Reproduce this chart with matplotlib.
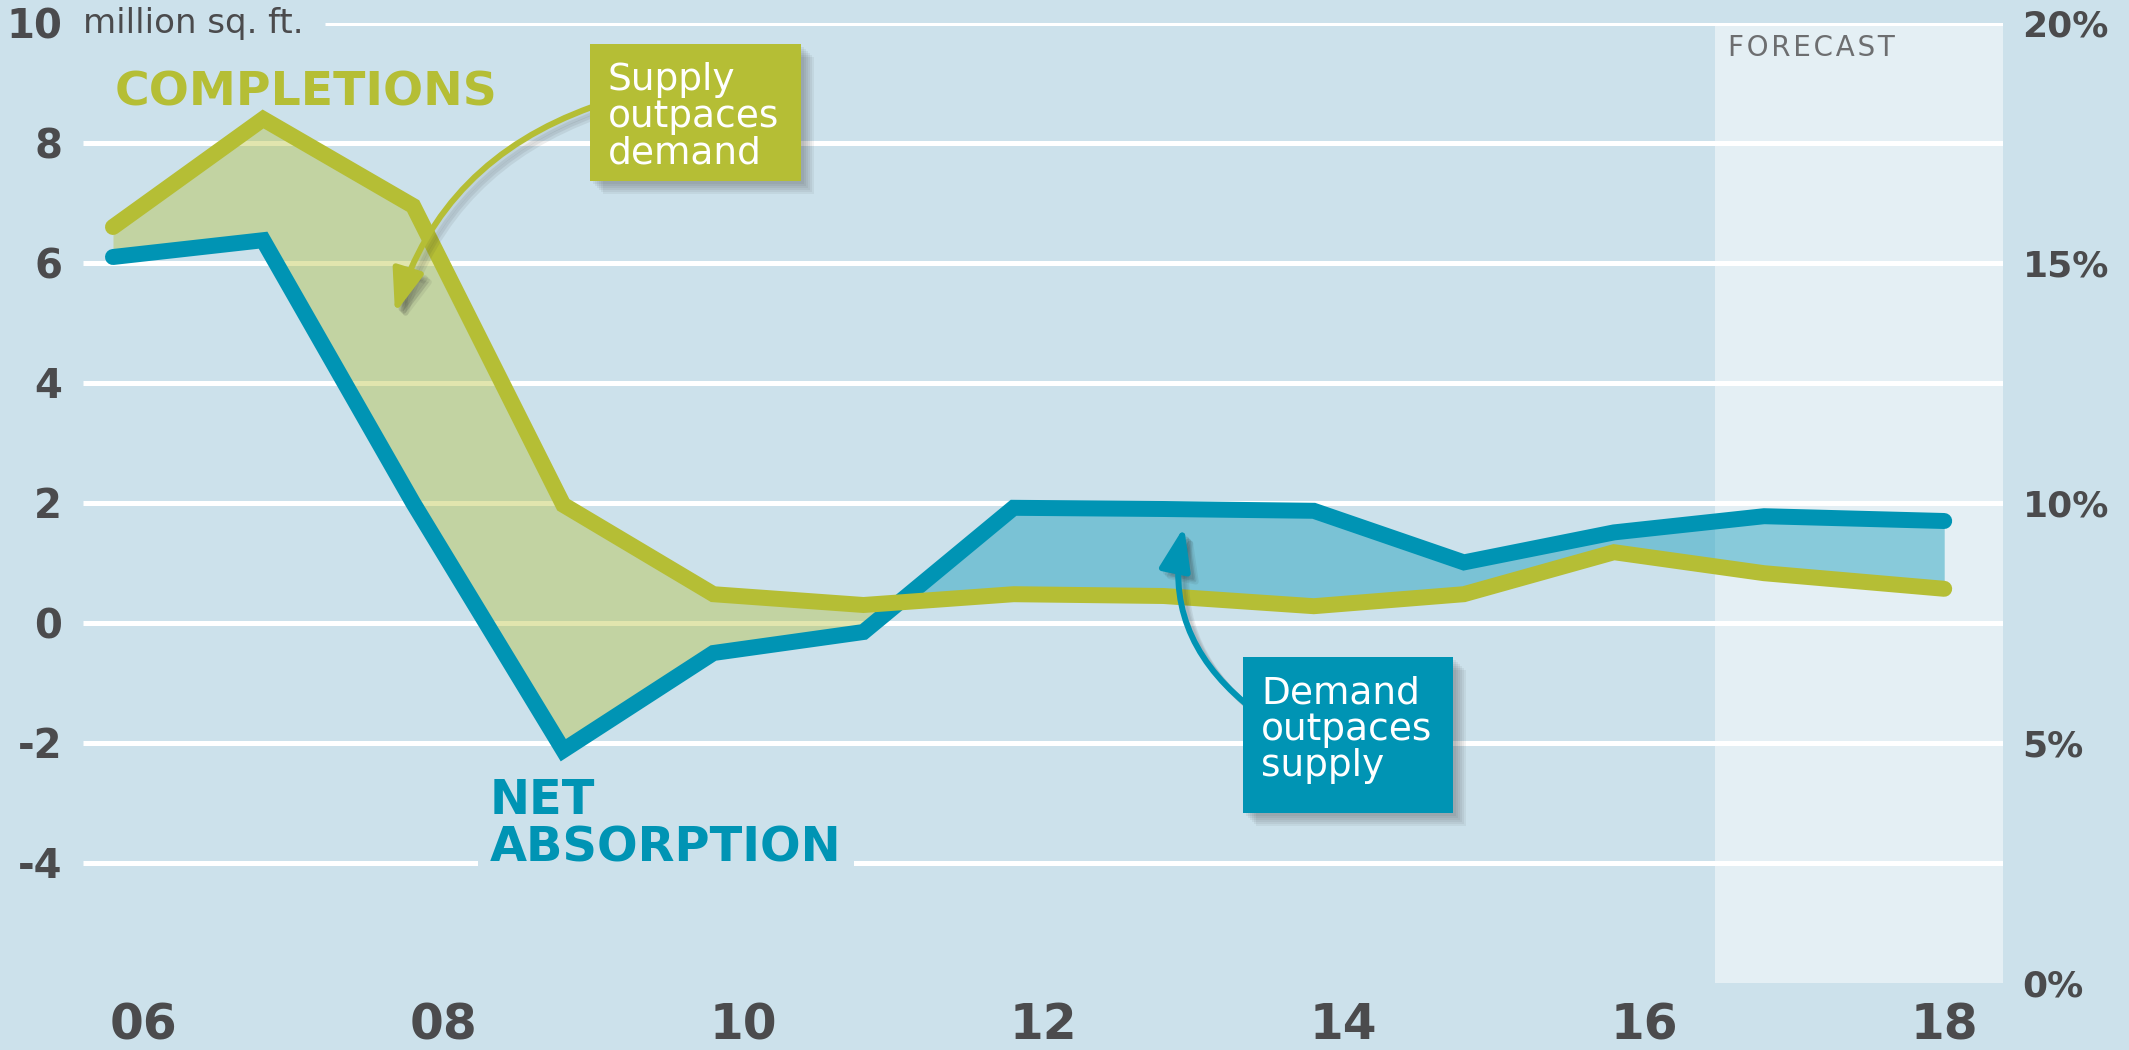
import matplotlib
matplotlib.use("Agg")
import matplotlib.pyplot as plt
from matplotlib.patches import Rectangle, FancyArrowPatch, ArrowStyle

plt.rcParams.update({
    "font.family": "DejaVu Sans",
    "axes.spines.top": False,
    "axes.spines.right": False,
    "axes.spines.left": False,
    "axes.spines.bottom": False,
})

BG = "#cce1eb"
FORECAST_BG = "#e4eff4"
GREEN = "#b5be35"
BLUE = "#0094b4"
DARK = "#4b4b4d"

# values (million sq. ft.)
years = [2005.8, 2006.8, 2007.8, 2008.8, 2009.8, 2010.8, 2011.8,
         2012.8, 2013.8, 2014.8, 2015.8, 2016.8, 2018.0]
completions = [6.6, 8.4, 6.95, 1.97, 0.48, 0.30, 0.48,
               0.45, 0.28, 0.48, 1.18, 0.83, 0.57]
net_absorption = [6.1, 6.38, 2.0, -2.12, -0.5, -0.15, 1.92,
                  1.90, 1.87, 1.01, 1.51, 1.78, 1.70]
left_ticks = [-4, -2, 0, 2, 4, 6, 8, 10]
left_labels = ["-4", "-2", "0", "2", "4", "6", "8", "10"]
right_ticks = [0, 5, 10, 15, 20]
right_labels = ["0%", "5%", "10%", "15%", "20%"]
x_ticks = [2006, 2008, 2010, 2012, 2014, 2016, 2018]
x_labels = ["06", "08", "10", "12", "14", "16", "18"]
forecast_start = 2016.47


# layout helpers: reference pixel -> data coords
def px_x(px):
    return 2006 + (px - 143) / 150.1


def px_y(py):
    return (623 - py) / 60


W, H = 2129, 1050
fig = plt.figure(figsize=(W / 100, H / 100), dpi=100, facecolor=BG)
ax = fig.add_axes([83 / W, (H - 983) / H, 1920 / W, 960 / H])
ax.set_facecolor(BG)
x_lo, x_hi = px_x(83), px_x(2003)
ax.set_xlim(x_lo, x_hi)
ax.set_ylim(-6, 10)

# forecast shading
ax.axvspan(forecast_start, x_hi, color=FORECAST_BG, zorder=0.1, lw=0)

# grid lines (top one starts after the unit label)
starts = [x_lo] * (len(left_ticks) - 1) + [px_x(325)]
ax.hlines(left_ticks, starts, x_hi, color="white", lw=3.6, zorder=0.5)

# fills between the two series
ax.fill_between(years, completions, net_absorption,
                where=[c >= a for c, a in zip(completions, net_absorption)],
                interpolate=True, color=GREEN, alpha=0.4, lw=0, zorder=2)
ax.fill_between(years, completions, net_absorption,
                where=[c < a for c, a in zip(completions, net_absorption)],
                interpolate=True, color=BLUE, alpha=0.4, lw=0, zorder=2)

ax.plot(years, net_absorption, color=BLUE, lw=11.5,
        solid_joinstyle="miter", solid_capstyle="round", zorder=3)
ax.plot(years, completions, color=GREEN, lw=11.5,
        solid_joinstyle="miter", solid_capstyle="round", zorder=4)

# axes ticks
ax.set_yticks(left_ticks)
ax.set_yticklabels(left_labels)
ax.set_xticks(x_ticks)
ax.set_xticklabels(x_labels)
ax.tick_params(axis="y", length=0, pad=15, labelsize=29, labelcolor=DARK)
ax.tick_params(axis="x", length=0, pad=13, labelsize=35, labelcolor=DARK)
for lab in ax.get_yticklabels() + ax.get_xticklabels():
    lab.set_fontweight("bold")

ax2 = ax.twinx()
ax2.set_ylim(0, 20)
ax2.set_yticks(right_ticks)
ax2.set_yticklabels(right_labels)
ax2.tick_params(axis="y", length=0, pad=14, labelsize=26, labelcolor=DARK)
for lab in ax2.get_yticklabels():
    lab.set_fontweight("bold")
for s in ax2.spines.values():
    s.set_visible(False)

# text labels
ax.text(px_x(83), 10, "million sq. ft.", fontsize=24.5, color=DARK,
        ha="left", va="center", zorder=5)
ax.text(px_x(115), px_y(71), "COMPLETIONS", fontsize=34, fontweight="bold",
        color=GREEN, ha="left", va="top", zorder=5)
ax.text(px_x(490), px_y(777), "NET\nABSORPTION", fontsize=34.5,
        fontweight="bold", color=BLUE, ha="left", va="top",
        linespacing=1.02, zorder=1,
        bbox=dict(boxstyle="square,pad=0.25", fc=BG, ec="none"))
ax.text(px_x(1728), px_y(34), "F O R E C A S T".replace(" ", "\u200a"),
        fontsize=20, color="#6d6e70", ha="left", va="top", zorder=1)


def make_arrow(start, end, rad, color, lw, alpha, z):
    return FancyArrowPatch(
        start, end,
        arrowstyle=ArrowStyle("-|>", head_length=26, head_width=9.5),
        connectionstyle=f"arc3,rad={rad}", mutation_scale=1,
        color=color, lw=lw, alpha=alpha, shrinkA=0, shrinkB=0, zorder=z)


def callout(x0, y0, x1, y1, color, text, tip, rad):
    # soft drop shadow
    for i in range(6):
        d = 3 + i * 2
        ax.add_patch(Rectangle((px_x(x0 + d), px_y(y1 + d)),
                               (x1 - x0) / 150.1, (y1 - y0) / 60,
                               fc="#2a2a2a", ec="none", alpha=0.06,
                               zorder=6))
    ax.add_patch(Rectangle((px_x(x0), px_y(y1)), (x1 - x0) / 150.1,
                           (y1 - y0) / 60, fc=color, ec="none", zorder=8))
    ax.text(px_x(x0 + 18), px_y(y0 + 18), text, fontsize=27,
            color="white", ha="left", va="top", linespacing=1.02,
            zorder=9)
    start, end = tip
    # arrow shadow
    for i in range(3):
        d = 4 + i * 2
        ax.add_patch(make_arrow((px_x(start[0] + d), px_y(start[1] + d)),
                                (px_x(end[0] + d), px_y(end[1] + d)),
                                rad, "#2a2a2a", 4.3, 0.08, 6))
    ax.add_patch(make_arrow((px_x(start[0]), px_y(start[1])),
                            (px_x(end[0]), px_y(end[1])),
                            rad, color, 4.3, 1, 7))


callout(590, 44, 801, 181, GREEN, "Supply\noutpaces\ndemand",
        ((592, 107), (395, 313)), 0.25)
callout(1243, 657, 1453, 813, BLUE, "Demand\noutpaces\nsupply",
        ((1245, 703), (1184, 527)), -0.3)

fig.savefig("out.png", dpi=100, facecolor=BG)
